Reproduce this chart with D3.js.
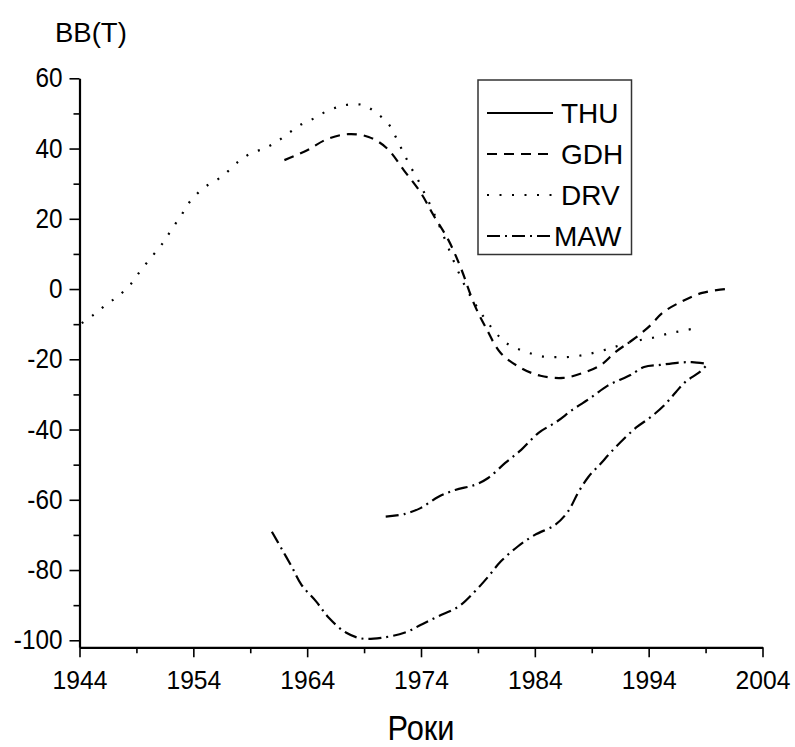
<!DOCTYPE html>
<html>
<head>
<meta charset="utf-8">
<script src="https://cdn.jsdelivr.net/npm/d3@7"></script>
<style>
  body { margin: 0; background: #fff; }
  svg text { font-family: "Liberation Sans", Arial, sans-serif; fill: #000; }
</style>
</head>
<body>
<div id="chart"></div>
<script>
// values (year, BB(T))
const drvYears = [1944.2, 1945.2, 1946.4, 1947.4, 1948.5, 1949.4, 1950.4, 1951.3, 1952.1, 1953, 1953.8, 1955, 1956.5, 1958,
  1959.1, 1960.3, 1961.4, 1962.5, 1963.5, 1964.6, 1965.7, 1966.9, 1967.9, 1969, 1970, 1971.1, 1971.8, 1972.4, 1973,
  1973.7, 1974.3, 1974.9, 1976, 1977, 1978, 1979, 1980.5, 1981.5, 1982.7, 1983.8, 1984.9, 1986, 1987.2, 1988.4, 1989.4,
  1990.6, 1991.5, 1992.6, 1993.6, 1994.6, 1995.8, 1996.8, 1997.9];
const drvValues = [-9.7, -7.4, -4.3, -2, 1.4, 5.4, 9.4, 13, 17, 21.3, 25.3, 29, 32, 36.4,
  38.7, 40.1, 42.1, 44.7, 46.9, 48.6, 50.6, 52, 52.6, 52.3, 50.3, 47.2, 43.2, 39.2, 35.3,
  31.3, 27.3, 23.3, 15, 7, 0, -5.5, -12.2, -15.4, -17.3, -18.5, -19.3, -19.4, -19.3, -18.7, -18,
  -16.9, -16, -15, -14.3, -13.7, -12.6, -12, -11.3];

const gdhYears = [1962, 1964, 1965.7, 1967.6, 1969.4, 1971, 1972.5, 1974, 1975.1, 1976.4, 1977.5, 1978.7, 1979.7, 1981,
  1982.8, 1984.5, 1986.5, 1988.2, 1989.8, 1991.1, 1992.8, 1994.2, 1995.2, 1996.8, 1998.7, 2000.7];
const gdhValues = [36.7, 39.5, 42.6, 44.1, 43.3, 40.1, 33.8, 27.3, 21, 14, 6, -4.5, -11, -18.2,
  -22.5, -24.7, -25.3, -23.9, -21.6, -17.9, -14, -10.2, -6.8, -3.7, -1.1, 0];

const mawYears = [1970.9, 1972.6, 1974, 1975.5, 1977, 1978.7, 1979.9, 1981.4, 1982.8, 1984.3, 1985.9, 1987.3, 1988.9,
  1990.4, 1991.5, 1992.4, 1993.6, 1995, 1996.5, 1997.8, 1998.9];
const mawValues = [-64.8, -64, -62.3, -59.2, -57.2, -55.8, -53.8, -49.5, -45.8, -41, -37.8, -34.4, -31,
  -27.5, -25.8, -24.5, -22.2, -21.6, -21, -20.8, -21.2];

const lowYears = [1960.9, 1961.8, 1962.7, 1963.5, 1964.8, 1965.9, 1967.4, 1968.8, 1970.5, 1972.6, 1974, 1975.5, 1977.3,
  1978.7, 1979.9, 1981, 1982.5, 1984, 1985.8, 1986.9, 1987.8, 1988.7, 1989.7, 1990.7, 1991.9, 1993, 1994.2, 1995.4,
  1996.4, 1997.2, 1998.5, 1999];
const lowValues = [-69.1, -74.2, -79.4, -84.2, -89, -93.6, -97.8, -99.5, -99.3, -97.8, -95.6, -93.2, -90.4,
  -86.2, -81.9, -77.6, -73.3, -70, -67.1, -63.4, -58, -53.5, -50, -46.4, -42.4, -39.2, -36.4, -33,
  -29.3, -26.5, -23.6, -22];

const xTicks = [1944, 1954, 1964, 1974, 1984, 1994, 2004];
const yTicks = [-100, -80, -60, -40, -20, 0, 20, 40, 60];
const legendNames = ["THU", "GDH", "DRV", "MAW"];

const width = 795, height = 747;

const dashes = {
  THU: null,
  GDH: "10,7",
  DRV: "2,10.5",
  MAW: "13,5,2,5"
};

const svg = d3.select("#chart").append("svg")
  .attr("width", width)
  .attr("height", height);

const x = d3.scaleLinear().domain([1944, 2004]).range([79.5, 762.5]);
const y = d3.scaleLinear().domain([-102, 60]).range([647.3, 78.3]);

// narrow the glyphs a little, the original font is condensed
function squeeze(sel, k) {
  sel.each(function () {
    const w = this.getComputedTextLength();
    d3.select(this).attr("textLength", w * k).attr("lengthAdjust", "spacingAndGlyphs");
  });
}

// plain hyphen for negatives, like the original
const plain = d => String(d);

// minor ticks first, majors on top
svg.append("g")
  .attr("transform", `translate(0,${y.range()[0]})`)
  .call(d3.axisBottom(x).tickValues(d3.range(1949, 2004, 10)).tickSize(6).tickFormat("").tickSizeOuter(0))
  .call(g => g.select(".domain").remove())
  .call(g => g.selectAll("line").attr("stroke-width", 1.6));

svg.append("g")
  .attr("transform", `translate(${x.range()[0]},0)`)
  .call(d3.axisLeft(y).tickValues(d3.range(-90, 60, 20)).tickSize(6).tickFormat("").tickSizeOuter(0))
  .call(g => g.select(".domain").remove())
  .call(g => g.selectAll("line").attr("stroke-width", 1.6));

const xAxis = svg.append("g")
  .attr("transform", `translate(0,${y.range()[0]})`)
  .call(d3.axisBottom(x).tickValues(xTicks).tickFormat(plain).tickSize(10).tickSizeOuter(0).tickPadding(13));
xAxis.select(".domain").attr("stroke-width", 2.2);
xAxis.selectAll("line").attr("stroke-width", 1.6);
xAxis.selectAll("text").style("font-size", "26.5px").call(squeeze, 0.93);

const yAxis = svg.append("g")
  .attr("transform", `translate(${x.range()[0]},0)`)
  .call(d3.axisLeft(y).tickValues(yTicks).tickFormat(plain).tickSize(10).tickSizeOuter(0).tickPadding(7));
yAxis.select(".domain").attr("stroke-width", 2.2);
yAxis.selectAll("line").attr("stroke-width", 1.6);
yAxis.selectAll("text").style("font-size", "27px").call(squeeze, 0.9);

// axis titles
svg.append("text")
  .attr("x", 55)
  .attr("y", 42)
  .style("font-size", "27.5px")
  .text("BB(T)");

svg.append("text")
  .attr("x", (x.range()[0] + x.range()[1]) / 2)
  .attr("y", 740)
  .attr("text-anchor", "middle")
  .style("font-size", "35px")
  .text("Роки")
  .call(squeeze, 0.88);

// curves
const line = d3.line()
  .x(d => x(d[0]))
  .y(d => y(d[1]))
  .curve(d3.curveCatmullRom.alpha(0.5));

const series = [
  { name: "DRV", years: drvYears, values: drvValues },
  { name: "GDH", years: gdhYears, values: gdhValues },
  { name: "MAW", years: mawYears, values: mawValues },
  { name: "MAW", years: lowYears, values: lowValues }
];

svg.append("g")
  .selectAll("path")
  .data(series)
  .enter().append("path")
  .attr("d", s => line(d3.zip(s.years, s.values)))
  .attr("fill", "none")
  .attr("stroke", "#000")
  .attr("stroke-width", 2.2)
  .attr("stroke-dasharray", s => dashes[s.name]);

// legend
const legend = svg.append("g");

legend.append("rect")
  .attr("x", 478)
  .attr("y", 80)
  .attr("width", 153.5)
  .attr("height", 174.5)
  .attr("fill", "#fff")
  .attr("stroke", "#333")
  .attr("stroke-width", 1.5);

const rows = legend.selectAll("g.row")
  .data(legendNames)
  .enter().append("g")
  .attr("class", "row")
  .attr("transform", (d, i) => `translate(0,${113 + i * 41})`);

rows.append("line")
  .attr("x1", 487)
  .attr("x2", 553)
  .attr("stroke", "#000")
  .attr("stroke-width", 2.2)
  .attr("stroke-dasharray", d => dashes[d]);

rows.append("text")
  .attr("x", d => d === "MAW" ? 554 : 561)
  .attr("dy", "0.36em")
  .style("font-size", "28px")
  .text(d => d);
</script>
</body>
</html>
